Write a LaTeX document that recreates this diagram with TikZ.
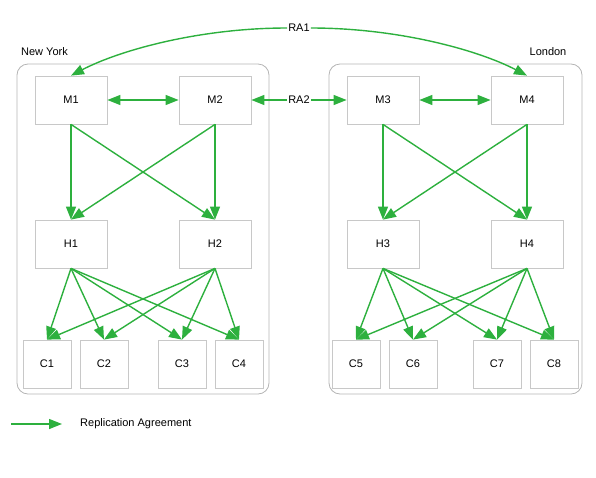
\documentclass[tikz,border=0pt]{standalone}
\usepackage{fontspec}
\setmainfont{Liberation Sans}
\usetikzlibrary{arrows.meta}
\definecolor{ragreen}{HTML}{2DB03E}
\definecolor{boxgray}{HTML}{C8C8C8}
\definecolor{contgray}{HTML}{B4B4B4}
\tikzset{
  srv/.style={draw=boxgray, line width=0.8pt, minimum width=72pt, minimum height=48pt, inner sep=0pt, font=\fontsize{11pt}{13pt}\selectfont},
  cli/.style={draw=boxgray, line width=0.8pt, minimum width=48pt, minimum height=48pt, inner sep=0pt, font=\fontsize{11pt}{13pt}\selectfont},
  cont/.style={draw=contgray, line width=0.8pt, rounded corners=11pt},
  lbl/.style={inner sep=1pt, font=\fontsize{11pt}{13pt}\selectfont},
  ra/.style={draw=ragreen, line width=1.4pt, -{Triangle[length=13pt,width=10pt]}},
  rab/.style={draw=ragreen, line width=1.4pt, {Triangle[length=13pt,width=10pt]}-{Triangle[length=13pt,width=10pt]}}
}
\begin{document}
\begin{tikzpicture}[x=1pt,y=-1pt]
\useasboundingbox (0,0) rectangle (596,477);
% containers
\draw[cont] (17,64) rectangle (269,394);
\draw[cont] (329,64) rectangle (582,394);
\node[lbl] (ny) at (44.5,52) {New York};
\node[lbl] (ld) at (548,52) {London};
% masters
\node[srv] (m1) at (71,100) {M1};
\node[srv] (m2) at (215,100) {M2};
\node[srv] (m3) at (383,100) {M3};
\node[srv] (m4) at (527,100) {M4};
% hubs
\node[srv] (h1) at (71,244) {H1};
\node[srv] (h2) at (215,244) {H2};
\node[srv] (h3) at (383,244) {H3};
\node[srv] (h4) at (527,244) {H4};
% consumers
\node[cli] (c1) at (47,364) {C1};
\node[cli] (c2) at (104,364) {C2};
\node[cli] (c3) at (182,364) {C3};
\node[cli] (c4) at (239,364) {C4};
\node[cli] (c5) at (356,364) {C5};
\node[cli] (c6) at (413,364) {C6};
\node[cli] (c7) at (497,364) {C7};
\node[cli] (c8) at (554,364) {C8};
% RA labels
\node[lbl] (ra1) at (299,28) {RA1};
\node[lbl] (ra2) at (299,100) {RA2};
% RA1 curve
\draw[ra] (ra1.west) .. controls (200,28) and (120,50) .. (m1.north);
\draw[ra] (ra1.east) .. controls (398,28) and (478,50) .. (m4.north);
% RA2
\draw[ra] (ra2.west) -- (m2.east);
\draw[ra] (ra2.east) -- (m3.west);
% master pairs
\draw[rab] (m1.east) -- (m2.west);
\draw[rab] (m3.east) -- (m4.west);
% masters to hubs
\foreach \m in {m1,m2}{\foreach \h in {h1,h2}{\draw[ra] (\m.south) -- (\h.north);}}
\foreach \m in {m3,m4}{\foreach \h in {h3,h4}{\draw[ra] (\m.south) -- (\h.north);}}
% hubs to consumers
\foreach \h in {h1,h2}{\foreach \c in {c1,c2,c3,c4}{\draw[ra] (\h.south) -- (\c.north);}}
\foreach \h in {h3,h4}{\foreach \c in {c5,c6,c7,c8}{\draw[ra] (\h.south) -- (\c.north);}}
% legend
\coordinate (lg1) at (11,424);
\coordinate (lg2) at (62,424);
\draw[ra] (lg1) -- (lg2);
\node[lbl, anchor=west] (lgt) at (79,424) {Replication Agreement};
\end{tikzpicture}
\end{document}
